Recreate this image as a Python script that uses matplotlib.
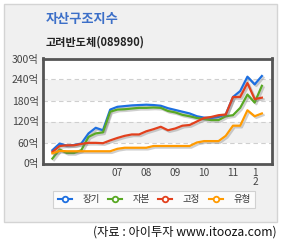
import matplotlib
matplotlib.use("Agg")
import matplotlib.pyplot as plt
import matplotlib.patheffects as pe
from matplotlib.patches import Rectangle
from matplotlib.lines import Line2D

plt.rcParams['font.family'] = ['Noto Sans CJK KR', 'DejaVu Sans']

# ---------- DATA (quarterly, 2004Q4 .. 2012Q1, unit: 억) ----------
long_term = [38, 57, 51, 53, 57, 86, 102, 95, 154, 162,
             164, 166, 167, 168, 167, 165, 158, 153, 148, 143,
             135, 131, 130, 133, 140, 190, 207, 248, 226, 250]
equity = [14, 40, 30, 30, 38, 76, 86, 89, 148, 154,
          155, 157, 159, 159, 160, 159, 150, 146, 139, 135,
          130, 127, 124, 124, 135, 138, 159, 197, 174, 222]
fixed = [33, 50, 52, 52, 56, 59, 59, 58, 66, 73,
         79, 83, 83, 92, 98, 105, 95, 100, 108, 110,
         120, 130, 133, 138, 140, 190, 190, 230, 184, 188]
tangible = [29, 36, 35, 35, 35, 35, 35, 35, 35, 42,
            45, 45, 45, 45, 50, 50, 50, 50, 50, 50,
            60, 64, 64, 64, 79, 108, 108, 152, 135, 143]

series_names = ["장기", "자본", "고정", "유형"]
series_colors = ["#1d6fe0", "#58a823", "#e2401d", "#ff9a00"]
year_labels = ["07", "08", "09", "10", "11", "1\n2"]
y_ticks = [0, 60, 120, 180, 240, 300]

# ---------- FIGURE ----------
fig = plt.figure(figsize=(2.84, 2.40), dpi=100)
fig.patch.set_facecolor("white")

# gray panel behind everything
panel = Rectangle((4 / 284, 1 - 222 / 240), 273 / 284, 218 / 240,
                  transform=fig.transFigure, facecolor="#f0f0f0",
                  edgecolor="#d4d4d4", linewidth=1, zorder=-5)
fig.patches.append(panel)

fig.text(46 / 284, 1 - 19 / 240, "자산구조지수", color="#3c6fc8",
         fontsize=9.5, fontweight="bold", va="center", ha="left")
fig.text(46 / 284, 1 - 42 / 240, "고려반도체(089890)", color="#222222",
         fontsize=8, fontweight="bold", va="center", ha="left")

ax = fig.add_axes([43 / 284, 1 - 163.5 / 240, 229 / 284, 105 / 240])
ax.set_zorder(2)
ax.set_facecolor("white")

# alternating bands + dashed grid
for lo in (60, 180):
    ax.axhspan(lo, lo + 60, color="#f1f1f1", zorder=0, lw=0)
for y in y_ticks[1:-1]:
    ax.axhline(y, color="#cfcfcf", lw=0.8, ls=(0, (4, 3)), zorder=1)

x = list(range(len(long_term)))
shadow = [pe.SimpleLineShadow(offset=(1.2, -1.2), shadow_color="#777777", alpha=0.35),
          pe.Normal()]
for vals, c in zip([long_term, equity, fixed, tangible], series_colors):
    ax.plot(x, vals, color=c, lw=1.6, zorder=3, path_effects=shadow)

ax.set_xlim(-1.3, 30.4)
ax.set_ylim(0, 300)

ax.set_yticks(y_ticks)
ax.set_yticklabels([f"{v}억" for v in y_ticks], fontsize=7.5, color="#444444")
ax.set_xticks([9, 13, 17, 21, 25, 28.1])
ax.set_xticklabels(year_labels, fontsize=7.3, color="#444444", linespacing=0.9, va="top")
ax.tick_params(length=0, pad=3)
ax.tick_params(axis="y", pad=3)

for s in ax.spines.values():
    s.set_color("#555555")
    s.set_linewidth(2)

# legend
handles = [Line2D([0], [0], color=c, lw=1.5, marker="o", markersize=4,
                  markerfacecolor="white", markeredgecolor=c, markeredgewidth=1.3)
           for c in series_colors]
leg = fig.legend(handles, series_names, loc="center",
                 bbox_to_anchor=(154 / 284, 1 - 199.5 / 240), ncol=4,
                 fontsize=6.8, frameon=True, fancybox=False, handlelength=1.5,
                 handletextpad=1.1, columnspacing=0.9, borderpad=0.45,
                 borderaxespad=0)
leg.get_frame().set_edgecolor("#c8c8c8")
leg.get_frame().set_linewidth(0.8)
for t in leg.get_texts():
    t.set_color("#333333")

fig.text(277 / 284, 1 - 232 / 240, "(자료 : 아이투자 www.itooza.com)",
         fontsize=8.8, color="#111111", ha="right", va="center")

fig.savefig("out.png", dpi=100, facecolor=fig.get_facecolor())
